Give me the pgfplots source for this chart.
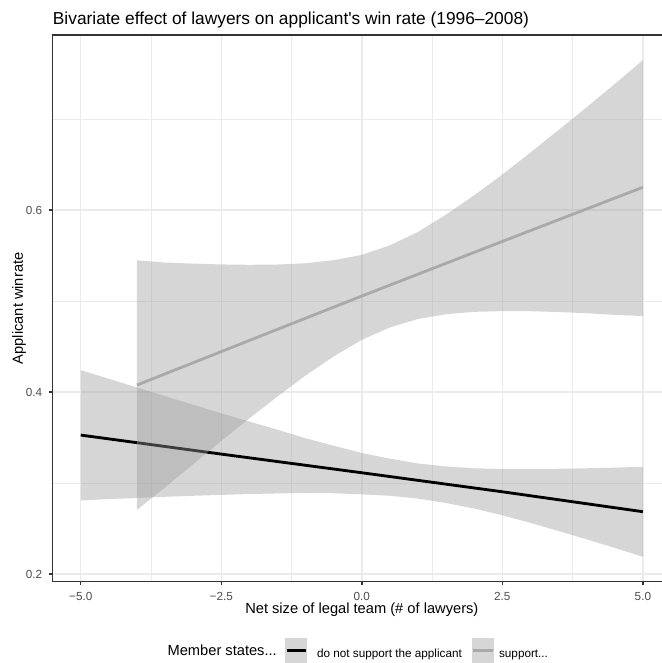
\documentclass[border=0pt]{standalone}
\usepackage{pgfplots}
\pgfplotsset{compat=1.18}
\usepackage{fontspec}
\setmainfont{Liberation Sans}
\definecolor{gridc}{HTML}{EBEBEB}
\definecolor{framec}{HTML}{333333}
\definecolor{ticklab}{HTML}{4D4D4D}
\definecolor{bandc}{HTML}{999999}
\definecolor{keyfill}{HTML}{D6D6D6}
\definecolor{supgrey}{HTML}{A9A9A9}

% do not support: x, mean
\pgfplotstableread{
x m
-5 0.3527
-2.5 0.3318
0 0.3113
2.5 0.2904
5 0.2685
}\nosupline
% support: x, mean
\pgfplotstableread{
x m
-4 0.4077
-2 0.4567
0 0.5055
2.5 0.5655
5 0.6250
}\supline

\begin{document}
\begin{tikzpicture}
\begin{axis}[
  name=ax,
  scale only axis,
  width=457pt, height=409.8pt,
  xmin=-5.5, xmax=5.34,
  ymin=0.1917, ymax=0.7921,
  xtick={-5,-2.5,0,2.5,5},
  xticklabels={−5.0,−2.5,0.0,2.5,5.0},
  ytick={0.2,0.4,0.6},
  yticklabels={0.2,0.4,0.6},
  minor xtick={-3.75,-1.25,1.25,3.75},
  minor ytick={0.3,0.5,0.7},
  grid=both,
  major grid style={draw=gridc, line width=1.07pt},
  minor grid style={draw=gridc, line width=0.53pt},
  minor tick length=0pt,
  major tick length=2.75pt,
  tick align=outside,
  xtick pos=lower, ytick pos=left,
  major tick style={draw=framec, line width=1.07pt},
  axis line style={draw=none},
  tick label style={font=\fontsize{8.8}{10}\selectfont, text=ticklab},
  xticklabel style={anchor=base, inner sep=0pt, yshift=-11.4pt},
  yticklabel style={anchor=east, inner sep=0pt, xshift=-4.95pt},
  legend columns=-1,
  legend cell align=left,
  legend style={at={(axis description cs:0.3815,-0.1262)}, anchor=west,
    draw=none, fill=none, inner sep=0pt, outer sep=0pt,
    font=\fontsize{8.8}{10}\selectfont,
    nodes={inner sep=0pt},
    /tikz/column 1/.style={column sep=7.4pt},
    /tikz/column 2/.style={column sep=7.6pt},
    /tikz/column 3/.style={column sep=3.8pt}},
]
% band: do not support
\addplot[draw=none, fill=bandc, fill opacity=0.4, forget plot] coordinates {
(-5,0.4240) (-4.5,0.4146) (-4,0.4050) (-3.5,0.3955) (-3,0.3860) (-2.5,0.3766)
(-2,0.3675) (-1.5,0.3586) (-1,0.3492) (-0.5,0.3410) (0,0.3330) (0.5,0.3268)
(1,0.3215) (1.5,0.3182) (2,0.3162) (2.5,0.3155) (3,0.3155) (3.5,0.3157)
(4,0.3162) (4.5,0.3169) (5,0.3179)
(5,0.2190) (4.5,0.2287) (4,0.2381) (3.5,0.2473) (3,0.2562) (2.5,0.2645)
(2,0.2720) (1.5,0.2780) (1,0.2829) (0.5,0.2860) (0,0.2876) (-0.5,0.2888)
(-1,0.2891) (-1.5,0.2886) (-2,0.2879) (-2.5,0.2870) (-3,0.2860) (-3.5,0.2849)
(-4,0.2836) (-4.5,0.2824) (-5,0.2808)
} -- cycle;
\addplot[draw=black, line width=2.13pt,
  legend image code/.code={
    \fill[keyfill] (0pt,-5.5pt) rectangle (14.4pt,11.78pt);
    \draw[black, line width=2.13pt] (0pt,3.14pt) -- (14.4pt,3.14pt);}]
  table[x=x, y=m] {\nosupline};
\addlegendentry{do not support the applicant}
% band: support
\addplot[draw=none, fill=bandc, fill opacity=0.4, forget plot] coordinates {
(-4,0.5447) (-3.5,0.5423) (-3,0.5411) (-2.5,0.5402) (-2,0.5398) (-1.5,0.5401)
(-1,0.5415) (-0.5,0.5449) (0,0.5507) (0.5,0.5612) (1,0.5760) (1.5,0.5950)
(2,0.6163) (2.5,0.6390) (3,0.6632) (3.5,0.6880) (4,0.7130) (4.5,0.7385)
(5,0.7648)
(5,0.4835) (4.5,0.4848) (4,0.4866) (3.5,0.4879) (3,0.4888) (2.5,0.4889)
(2,0.4881) (1.5,0.4855) (1,0.4803) (0.5,0.4710) (0,0.4573) (-0.5,0.4392)
(-1,0.4182) (-1.5,0.3952) (-2,0.3711) (-2.5,0.3463) (-3,0.3208) (-3.5,0.2952)
(-4,0.2705)
} -- cycle;
\addplot[draw=supgrey, line width=2.13pt,
  legend image code/.code={
    \fill[keyfill] (0pt,-5.5pt) rectangle (14.4pt,11.78pt);
    \draw[supgrey, line width=2.13pt] (0pt,3.14pt) -- (14.4pt,3.14pt);}]
  table[x=x, y=m] {\supline};
\addlegendentry{support...}
\coordinate (xlab) at (axis cs:0,0.1917);
\end{axis}
\draw[framec, line width=1.07pt] (ax.south east) -- (ax.south west) -- (ax.north west) -- (ax.north east);
\node[anchor=base west, inner sep=0pt, font=\fontsize{13}{15}\selectfont]
  at ([yshift=8.3pt]ax.north west) {Bivariate effect of lawyers on applicant\textquotesingle s win rate (1996–2008)};
\node[anchor=base, inner sep=0pt, font=\fontsize{11}{13}\selectfont]
  at ([yshift=-24.1pt]xlab) {Net size of legal team (\# of lawyers)};
\node[anchor=base, inner sep=0pt, rotate=90, font=\fontsize{11}{13}\selectfont]
  at ([xshift=-22.3pt]ax.west) {Applicant winrate};
\node[anchor=base west, inner sep=0pt, font=\fontsize{11}{13}\selectfont]
  at ([xshift=86pt, yshift=-55.6pt]ax.south west) {Member states...};
\pgfresetboundingbox
\useasboundingbox ([xshift=-39.5pt, yshift=-61.05pt]ax.south west) rectangle ([yshift=26.4pt]ax.north east);
\end{tikzpicture}
\end{document}
